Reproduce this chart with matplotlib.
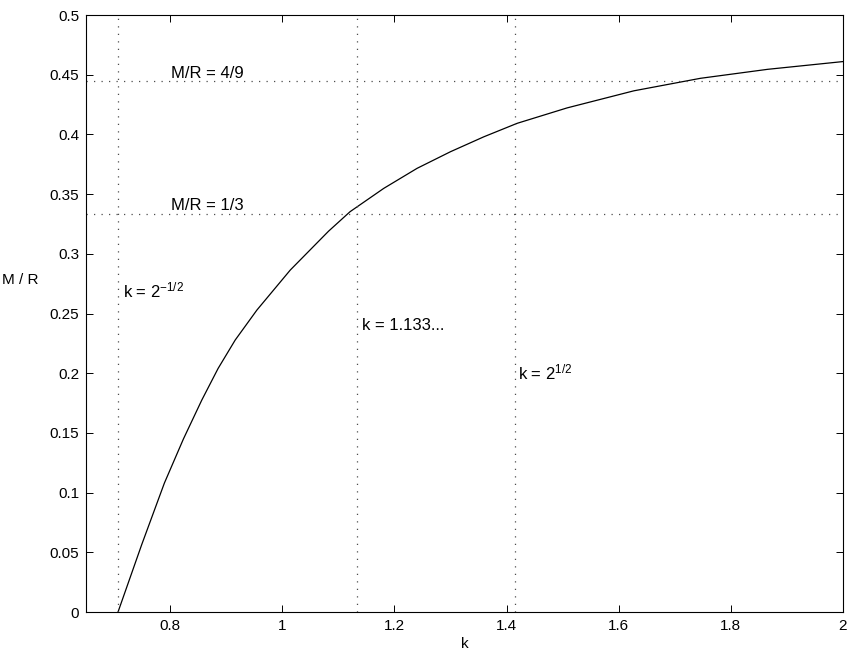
import numpy as np
import matplotlib
matplotlib.use('Agg')
import matplotlib.pyplot as plt

plt.rcParams['font.family'] = ['Liberation Sans', 'DejaVu Sans']
plt.rcParams['mathtext.default'] = 'regular'

# curve: k vs M/R
k = [0.7071, 0.7494, 0.7898, 0.8238, 0.8566, 0.8856, 0.9161, 0.9548, 1.0143,
     1.0827, 1.121, 1.181, 1.2405, 1.300, 1.3595, 1.419, 1.508, 1.627,
     1.746, 1.8655, 2.0]
mr = [0.0, 0.0565, 0.108, 0.145, 0.1776, 0.204, 0.2278, 0.2529, 0.2864,
      0.3190, 0.3353, 0.3548, 0.3716, 0.3855, 0.398, 0.4093, 0.4222, 0.4365,
      0.447, 0.4545, 0.461]

k_lines = [2**-0.5, 1.133, 2**0.5]
mr_lines = [4/9, 1/3]
k_labels = [r'k = 2$^{-1/2}$', 'k = 1.133...', r'k = 2$^{1/2}$']
mr_labels = ['M/R = 4/9', 'M/R = 1/3']

fig = plt.figure(figsize=(8.54, 6.61), dpi=100)
ax = fig.add_axes([0.1007, 0.0741, 0.8864, 0.9032])

ax.plot(k, mr, color='k', lw=0.9)

dots = (0, (1, 5))
for kv in k_lines:
    ax.axvline(kv, color='0.3', lw=0.9, ls=dots)
for mv in mr_lines:
    ax.axhline(mv, color='0.3', lw=0.9, ls=dots)

fs = 11
afs = 12
ax.text(0.802, 4/9 + 0.0005, mr_labels[0], fontsize=afs, va='bottom')
ax.text(0.802, 1/3 + 0.0005, mr_labels[1], fontsize=afs, va='bottom')
ax.text(0.7155, 0.2697, k_labels[0], fontsize=afs, va='center')
ax.text(1.142, 0.2398, k_labels[1], fontsize=afs, va='center')
ax.text(1.421, 0.201, k_labels[2], fontsize=afs, va='center')

ax.set_xlim(0.65, 2)
ax.set_ylim(0, 0.5)
ax.set_xticks([0.8, 1, 1.2, 1.4, 1.6, 1.8, 2])
ax.set_xticklabels(['0.8', '1', '1.2', '1.4', '1.6', '1.8', '2'])
ax.set_yticks(np.arange(0, 0.51, 0.05))
ax.set_yticklabels(['0', '0.05', '0.1', '0.15', '0.2', '0.25', '0.3',
                    '0.35', '0.4', '0.45', '0.5'])
ax.tick_params(direction='in', top=True, right=True, length=5, width=0.7,
               labelsize=fs, pad=5)
for s in ax.spines.values():
    s.set_linewidth(0.8)

ax.set_xlabel('k', fontsize=fs, labelpad=3)
ax.set_ylabel('M / R', fontsize=fs, rotation=0, ha='center', va='center')
ax.yaxis.set_label_coords(-0.087, 0.556)

fig.savefig('out.png', dpi=100)
